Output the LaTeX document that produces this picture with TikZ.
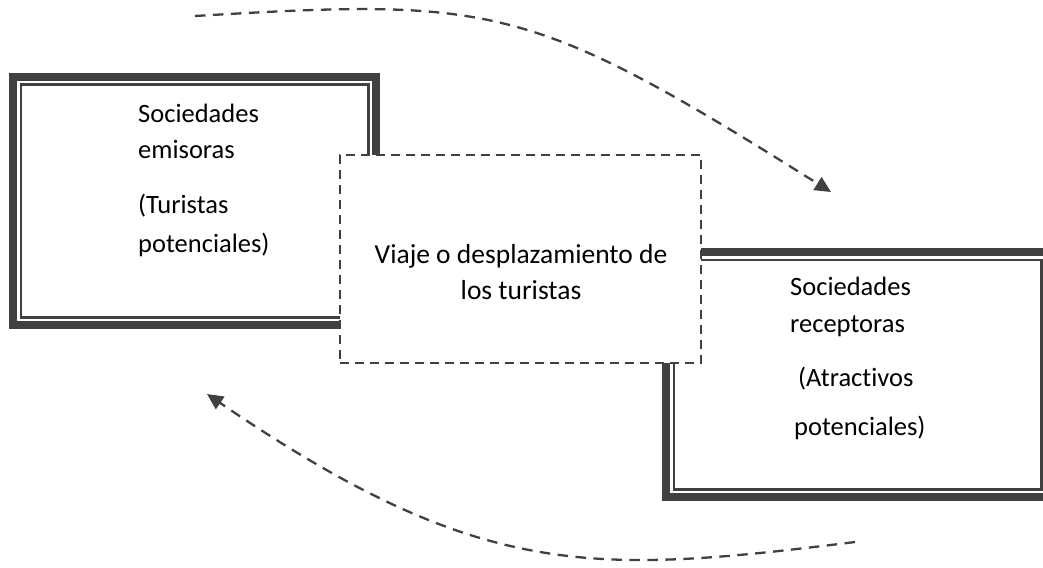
\documentclass[tikz,border=0pt]{standalone}
\usepackage{fontspec}
\setmainfont[Ligatures=NoCommon]{Carlito}
\usetikzlibrary{arrows.meta}
\definecolor{dk}{HTML}{404040}
\tikzset{
  outerband/.style={draw=dk, line width=8pt},
  thinline/.style={draw=dk, line width=2.5pt},
  midbox/.style={draw=dk, fill=white, line width=2pt, dash pattern=on 9pt off 6pt, rectangle, inner sep=0pt},
  flow/.style={draw=dk, line width=2.3pt, dash pattern=on 10.5pt off 7.5pt, -{Triangle[length=16pt,width=15pt]}},
  txt/.style={font=\fontsize{26.5}{31}\selectfont, text=black, inner sep=0pt, anchor=base west},
  ctxt/.style={font=\fontsize{27.5}{31}\selectfont, text=black, inner sep=0pt, anchor=base},
}
\begin{document}
\begin{tikzpicture}[x=1pt, y=-1pt]
\useasboundingbox (0,0) rectangle (1043,567);
\clip (0,0) rectangle (1043,567);
% left box: outer edge 9..380 x 73..329
\coordinate (L) at (194.5,201);
\draw[outerband] (13,77) rectangle (376,325);
\draw[thinline] (20.75,84.75) rectangle (368.25,317.25);
% right box: outer edge 662..1053 x 248..501
\coordinate (R) at (857.5,374.5);
\draw[outerband] (666,252) rectangle (1049,497);
\draw[thinline] (673.75,259.75) rectangle (1041.25,489.25);
% middle dashed box
\node[midbox, minimum width=361pt, minimum height=208pt] (D) at (520.5,259) {};
% texts
\node[txt] (l1) at (138,123) {Sociedades};
\node[txt] (l2) at (138,158) {emisoras};
\node[txt] (l3) at (138,213) {(Turistas};
\node[txt] (l4) at (138,252) {potenciales)};
\node[txt] (r1) at (790,295) {Sociedades};
\node[txt] (r2) at (790,332) {receptoras};
\node[txt] (r3) at (798,386) {(Atractivos};
\node[txt] (r4) at (794,435) {potenciales)};
\node[ctxt] (c1) at (521,263) {Viaje o desplazamiento de};
\node[ctxt] (c2) at (521,299) {los turistas};
% arrows
\coordinate (t1) at (195,16);
\coordinate (t2) at (831,192);
\coordinate (b1) at (855,542);
\coordinate (b2) at (207,394);
\draw[flow] (t1) .. controls (495,-2) and (530,3) .. (t2);
\draw[flow] (b1) .. controls (590,575) and (480,580) .. (b2);
\end{tikzpicture}
\end{document}
